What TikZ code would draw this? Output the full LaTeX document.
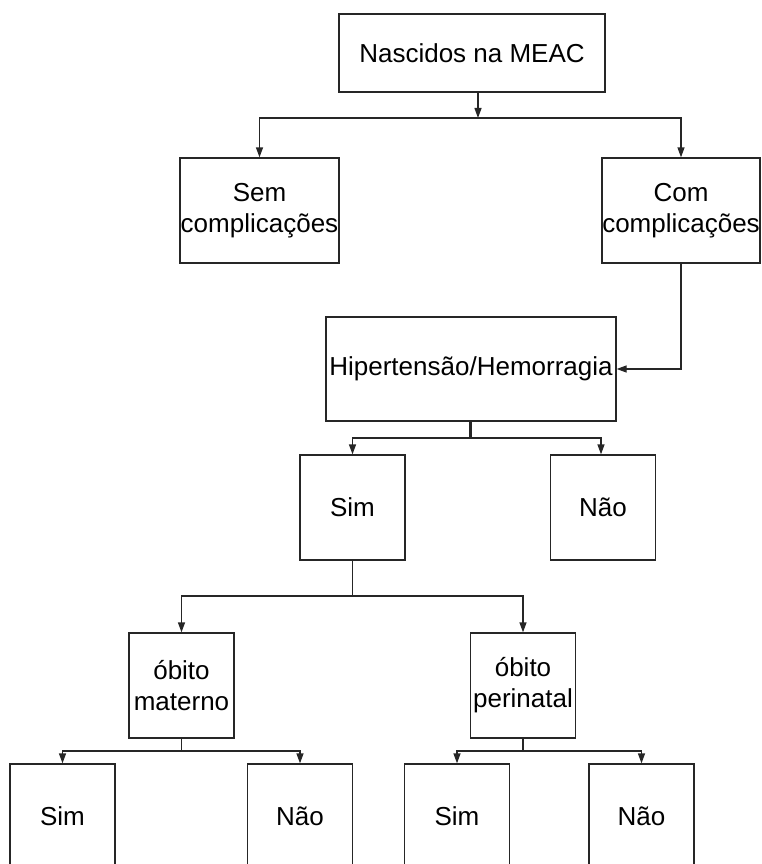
\documentclass[tikz,border=0pt]{standalone}
\usepackage{fontspec}
\setmainfont{Liberation Sans}
\usetikzlibrary{arrows.meta}
\tikzset{
  caixa/.style={draw=black!85, line width=1.3pt, rectangle, inner sep=0pt, align=center,
    minimum width=105pt, minimum height=105pt, font=\fontsize{26}{31}\selectfont},
  seta/.style={draw=black!85, line width=1.3pt, -{Triangle[length=10pt,width=7pt]}},
  linha/.style={draw=black!85, line width=1.3pt}
}
\begin{document}
\begin{tikzpicture}[x=1pt,y=-1pt]
\useasboundingbox (0,0) rectangle (761,864);
\clip (0,0) rectangle (761,864);

\node[caixa, minimum width=266pt, minimum height=78pt] (nasc) at (472,53) {Nascidos na MEAC};
\node[caixa, minimum width=159pt] (sem) at (259.5,210.5) {Sem\\complicações};
\node[caixa, minimum width=158pt] (com) at (681,210.5) {Com\\complicações};
\node[caixa, minimum width=290pt, minimum height=104pt] (hip) at (471,369) {Hipertensão/Hemorragia};
\node[caixa] (sim) at (352.5,507.5) {Sim};
\node[caixa] (nao) at (603,507.5) {Não};
\node[caixa] (omat) at (181.5,685.5) {óbito\\materno};
\node[caixa] (oper) at (523,685.5) {óbito\\perinatal};
\node[caixa] (simA) at (62.5,816.5) {Sim};
\node[caixa] (naoA) at (300,816.5) {Não};
\node[caixa] (simB) at (457,816.5) {Sim};
\node[caixa] (naoB) at (641.5,816.5) {Não};

\coordinate (j1) at (478,118);
\coordinate (j2) at (470,438);
\coordinate (j3) at (352.5,596);
\coordinate (j4) at (181.5,751);
\coordinate (j5) at (523,751);

\draw[seta] (nasc.south -| j1) -- (j1);
\draw[seta] (j1) -| (sem.north);
\draw[seta] (j1) -| (com.north);

\draw[seta] (com.south) |- (hip.east);

\draw[linha, line width=3pt] (hip.south -| j2) -- (j2);
\draw[seta] (j2) -| (sim.north);
\draw[seta] (j2) -| ([xshift=-2pt]nao.north);

\draw[linha] (sim.south) -- (j3);
\draw[seta] (j3) -| (omat.north);
\draw[seta] (j3) -| (oper.north);

\draw[linha] (omat.south) -- (j4);
\draw[seta] (j4) -| (simA.north);
\draw[seta] (j4) -| (naoA.north);

\draw[linha] (oper.south) -- (j5);
\draw[seta] (j5) -| (simB.north);
\draw[seta] (j5) -| (naoB.north);
\end{tikzpicture}
\end{document}
